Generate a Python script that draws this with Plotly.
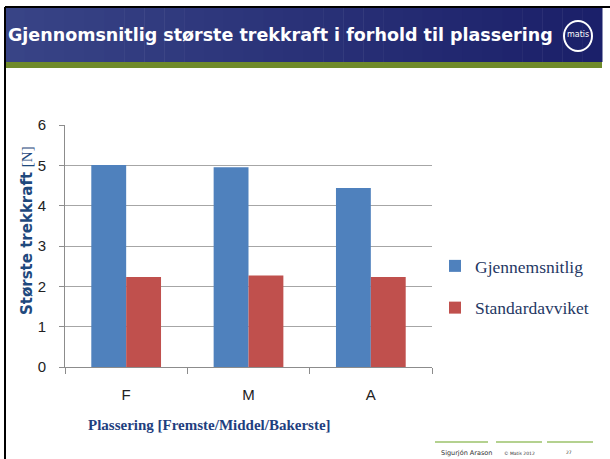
import plotly.graph_objects as go

categories = ["F", "M", "A"]
mean_values = [5.01, 4.95, 4.44]
std_values = [2.23, 2.27, 2.23]
series_names = ["Gjennemsnitlig", "Standardavviket"]
y_ticks = [0, 1, 2, 3, 4, 5, 6]

W, H = 610, 459
L, R, T, B = 65, 432, 125, 367  # plot area in pixels


def px(x):
    return (x - L) / (R - L)


def py(y):
    return (B - y) / (B - T)


fig = go.Figure()
fig.add_trace(go.Bar(x=categories, y=mean_values, name=series_names[0],
                     marker=dict(color="#4f81bd", line=dict(width=0)),
                     legendgroup="a"))
fig.add_trace(go.Bar(x=categories, y=std_values, name=series_names[1],
                     marker=dict(color="#c0504d", line=dict(width=0)),
                     legendgroup="b"))

shapes = []
# header background (gradient approximation)
n = 30
for i in range(n):
    x0 = 5 + (602 - 5) * i / n
    x1 = 5 + (602 - 5) * (i + 1) / n
    t = i / (n - 1)
    r = int(0x38 + (0x1b - 0x38) * t)
    g = int(0x44 + (0x20 - 0x44) * t)
    b = int(0x86 + (0x6a - 0x86) * t)
    shapes.append(dict(type="rect", xref="paper", yref="paper",
                       x0=px(x0), x1=px(x1 + 0.5), y0=py(62), y1=py(8),
                       fillcolor=f"rgb({r},{g},{b})", line=dict(width=0), layer="below"))
shapes.append(dict(type="rect", xref="paper", yref="paper",
                   x0=px(5), x1=px(602), y0=py(68), y1=py(62),
                   fillcolor="#6f8a2a", line=dict(width=0), layer="below"))
# frame lines
shapes.append(dict(type="line", xref="paper", yref="paper",
                   x0=px(5), x1=px(5), y0=py(459), y1=py(7),
                   line=dict(color="black", width=2)))
shapes.append(dict(type="line", xref="paper", yref="paper",
                   x0=px(5), x1=px(610), y0=py(7), y1=py(7),
                   line=dict(color="black", width=2)))
# logo circle
shapes.append(dict(type="circle", xref="paper", yref="paper",
                   x0=px(564), x1=px(592), y0=py(51), y1=py(21),
                   line=dict(color="white", width=2)))
# footer lines
for a, b in [(435, 488), (496, 542), (547, 593)]:
    shapes.append(dict(type="line", xref="paper", yref="paper",
                       x0=px(a), x1=px(b), y0=py(442), y1=py(442),
                       line=dict(color="#6aa421", width=1.2)))

annotations = [
    dict(text="<b>Gjennomsnitlig største trekkraft i forhold til plassering</b>",
         xref="paper", yref="paper", x=px(6), y=py(35), xanchor="left", yanchor="middle",
         showarrow=False, font=dict(family="DejaVu Sans", size=17.5, color="white")),
    dict(text="matis", xref="paper", yref="paper", x=px(578), y=py(35),
         xanchor="center", yanchor="middle", showarrow=False,
         font=dict(family="DejaVu Sans", size=8, color="white")),
    dict(text="<b>Største trekkraft</b> <span style='font-family:Liberation Serif'>[N]</span>",
         xref="paper", yref="paper", x=px(27), y=py(231), xanchor="center", yanchor="middle",
         textangle=-90, showarrow=False,
         font=dict(family="DejaVu Sans", size=15, color="#1f497d")),
    dict(text="<b>Plassering [Fremste/Middel/Bakerste]</b>",
         xref="paper", yref="paper", x=px(86), y=py(425), xanchor="left", yanchor="middle",
         showarrow=False,
         font=dict(family="Liberation Serif", size=15, color="#1f3f7f")),
    dict(text="Sigurjón Arason", xref="paper", yref="paper", x=px(466), y=py(453),
         xanchor="center", yanchor="middle", showarrow=False,
         font=dict(family="DejaVu Sans", size=6.5, color="#333333")),
    dict(text="© Matís 2012", xref="paper", yref="paper", x=px(519), y=py(453),
         xanchor="center", yanchor="middle", showarrow=False,
         font=dict(family="DejaVu Sans", size=4.5, color="#333333")),
    dict(text="27", xref="paper", yref="paper", x=px(569), y=py(452),
         xanchor="center", yanchor="middle", showarrow=False,
         font=dict(family="DejaVu Sans", size=4.5, color="#333333")),
]

fig.update_layout(
    width=W, height=H,
    margin=dict(l=L, r=W - R, t=T, b=H - B, pad=0),
    paper_bgcolor="white", plot_bgcolor="white",
    barmode="group", bargap=0.43, bargroupgap=0,
    showlegend=True,
    legend=dict(x=px(435), y=py(248), xanchor="left", yanchor="top",
                font=dict(family="Liberation Serif", size=17.5, color="#1f3864"),
                tracegroupgap=16, itemwidth=30, bgcolor="rgba(0,0,0,0)"),
    xaxis=dict(type="category", tickson="boundaries", ticks="outside", ticklen=6,
               tickcolor="#8c8c8c", showline=True, linecolor="#8c8c8c", linewidth=1,
               showgrid=False, ticklabelstandoff=14,
               tickfont=dict(family="Liberation Sans Narrow, Liberation Sans", size=15, color="#222222")),
    yaxis=dict(range=[0, 6], tickvals=y_ticks, ticks="outside", ticklen=5,
               tickcolor="#8c8c8c", showline=True, linecolor="#8c8c8c", linewidth=1,
               showgrid=True, gridcolor="#a6a6a6", gridwidth=1, zeroline=False,
               ticklabelstandoff=10,
               tickfont=dict(family="Liberation Sans Narrow, Liberation Sans", size=15, color="#222222")),
    shapes=shapes, annotations=annotations,
)

fig.write_html("out.html", config={"displayModeBar": False},
               post_script="document.body.style.margin='0';document.body.style.overflow='hidden';")
